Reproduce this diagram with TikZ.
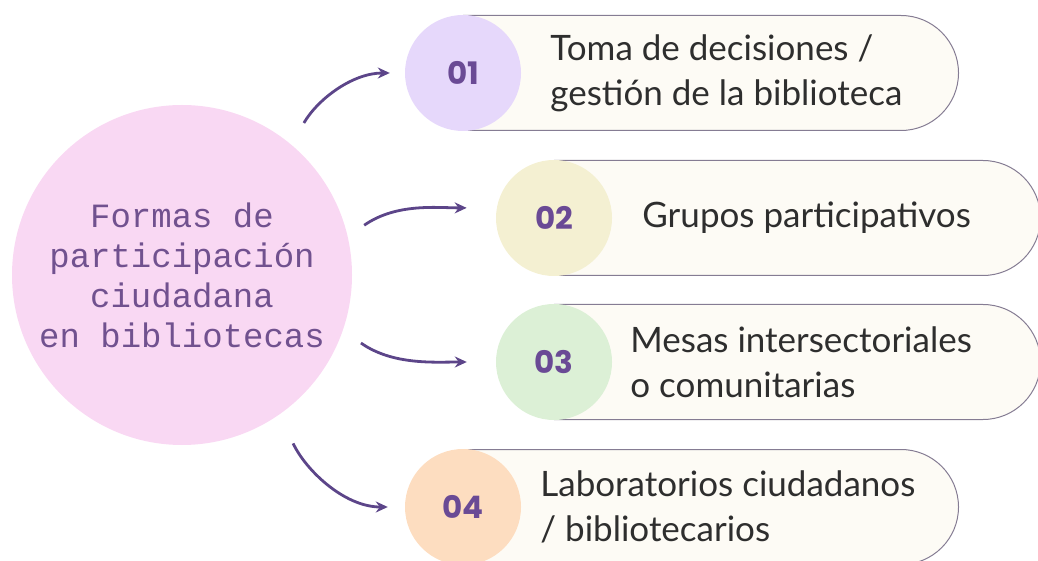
\documentclass[tikz,border=0pt]{standalone}
\usepackage{fontspec}
\setmainfont{Lato}
\newfontfamily\monofont{Liberation Mono}
\newfontfamily\numfont{Poppins}
\usetikzlibrary{shapes.misc, arrows.meta, positioning}
\definecolor{mainpink}{HTML}{F9D8F3}
\definecolor{maintext}{HTML}{71518F}
\definecolor{numlav}{HTML}{E6D8FB}
\definecolor{numyellow}{HTML}{F4F0D2}
\definecolor{numgreen}{HTML}{DCF0D6}
\definecolor{numpeach}{HTML}{FDDDC0}
\definecolor{pillfill}{HTML}{FDFBF5}
\definecolor{pillline}{HTML}{857C93}
\definecolor{arrowpurple}{HTML}{5C4589}
\definecolor{numtext}{HTML}{6A4A95}
\definecolor{bodytext}{HTML}{2E2E2E}

\begin{document}
\begin{tikzpicture}[
    x=1pt, y=1pt,
    hub/.style={circle, fill=mainpink, minimum size=340pt, inner sep=0pt, text=maintext, align=center,
        font=\monofont\fontsize{34}{40}\selectfont},
    pill/.style={rounded rectangle, rounded rectangle west arc=none, draw=pillline, line width=1pt,
        fill=pillfill, minimum height=115pt, anchor=west, inner sep=0pt},
    num/.style={circle, minimum size=116pt, inner sep=0pt, text=numtext, font=\numfont\bfseries\fontsize{31}{34}\selectfont},
    desc/.style={text=bodytext, align=left, anchor=west, inner sep=0pt, font=\fontsize{35}{45}\selectfont},
    arrow/.style={draw=arrowpurple, line width=2.8pt, -{Stealth[length=12pt, width=11pt]}}
]
\useasboundingbox (0,0) rectangle (1038,560);

% Central topic
\node[hub] (main) at (182,285) {Formas de\\participación\\ciudadana\\en bibliotecas};

% Pills
\node[pill, minimum width=495pt] (pill1) at (463,487) {};
\node[pill, minimum width=486pt] (pill2) at (554,342) {};
\node[pill, minimum width=486pt] (pill3) at (554,198) {};
\node[pill, minimum width=495pt] (pill4) at (463,53) {};

% Number circles
\node[num, fill=numlav] (num1) at (pill1.west) {01};
\node[num, fill=numyellow] (num2) at (pill2.west) {02};
\node[num, fill=numgreen] (num3) at (pill3.west) {03};
\node[num, fill=numpeach] (num4) at (pill4.west) {04};

% Labels
\node[desc, right=29pt of num1] (text1) {Toma de decisiones /\\gestión de la biblioteca};
\node[desc, right=30pt of num2] (text2) {Grupos participativos};
\node[desc, right=18pt of num3] (text3) {Mesas intersectoriales\\o comunitarias};
\node[desc, right=19pt of num4] (text4) {Laboratorios ciudadanos\\/ bibliotecarios};

% Arrows
\draw[arrow, shorten <=25pt, shorten >=15pt] (main.50) to[out=60, in=180] (num1.west);
\draw[arrow, shorten <=20pt, shorten >=30pt] (main.13) to[out=35, in=180] (num2.170);
\draw[arrow, shorten <=22pt, shorten >=29pt] (main.-19) to[out=-35, in=180] (num3.west);
\draw[arrow, shorten <=32pt, shorten >=17pt] (main.-55) to[out=-65, in=180] (num4.west);

\end{tikzpicture}
\end{document}
